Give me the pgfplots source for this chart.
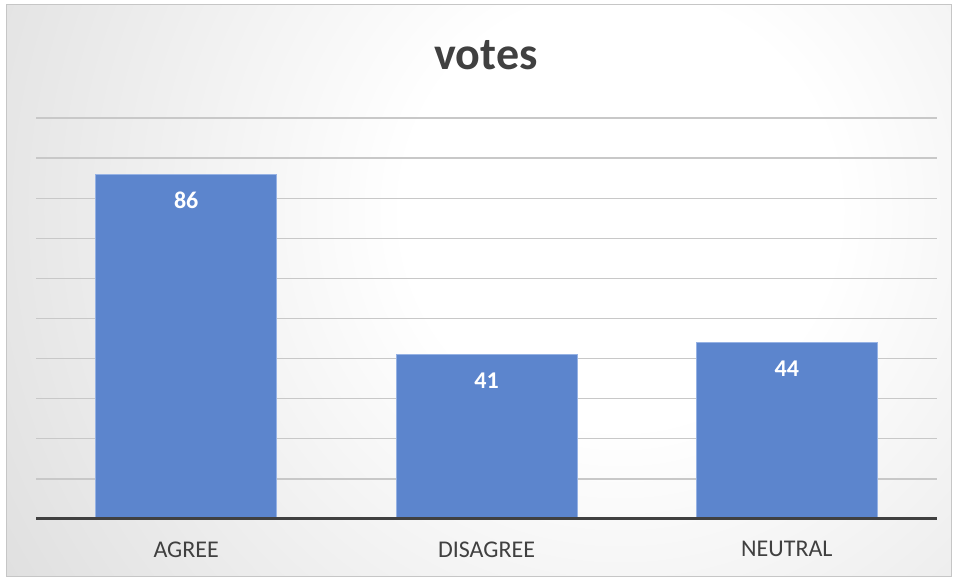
\documentclass[border=0pt]{standalone}
\usepackage{pgfplots}
\pgfplotsset{compat=1.18}
\usepackage{fontspec}
\setmainfont{Carlito}
\definecolor{barblue}{RGB}{92,133,205}
\definecolor{barline}{RGB}{150,178,228}
\definecolor{txt}{RGB}{64,64,64}
\definecolor{gridc}{RGB}{200,200,200}
\definecolor{edgec}{RGB}{192,192,192}
\pgfdeclareradialshading{bgshade}{\pgfpoint{0bp}{0bp}}{color(0bp)=(white); color(6bp)=(white); color(34bp)=(edgec); color(50bp)=(edgec)}
\begin{document}
\begin{tikzpicture}
\path[use as bounding box] (0pt,0pt) rectangle (957pt,-580pt);
\begin{scope}
\clip (6pt,-5pt) rectangle (951pt,-576pt);
\shade[shading=bgshade] (620pt,-210pt) circle (900pt);
\end{scope}
\draw[gray!45, line width=1pt] (6pt,-5pt) rectangle (951pt,-576pt);
\node[anchor=base, text=txt, font=\bfseries\fontsize{46}{46}\selectfont] at (486pt,-70pt) {votes};
\begin{axis}[
  at={(36pt,-519pt)}, anchor=south west,
  scale only axis, width=901pt, height=401pt,
  xmin=-0.5, xmax=2.5, ymin=0, ymax=100,
  axis line style={draw=none},
  major tick length=0pt,
  ytick={10,20,...,100}, yticklabels={},
  ymajorgrids, major grid style={gridc, line width=1.3pt},
  xtick=data, xticklabels={AGREE,DISAGREE,NEUTRAL},
  xticklabel style={text=txt, font=\fontsize{24}{24}\selectfont, yshift=-19pt},
  ybar, bar width=181pt,
  nodes near coords,
  /pgf/number format/assume math mode=true,
  every node near coord/.append style={text=white, font=\bfseries\fontsize{24}{24}\selectfont, anchor=north, yshift=-14.5pt},
]
\addplot[fill=barblue, draw=barline, line width=0.8pt] coordinates {(0,86) (1,41) (2,44)};
\draw[txt, line width=3.5pt] (axis cs:-0.5,0) -- (axis cs:2.5,0);
\end{axis}
\end{tikzpicture}
\end{document}
